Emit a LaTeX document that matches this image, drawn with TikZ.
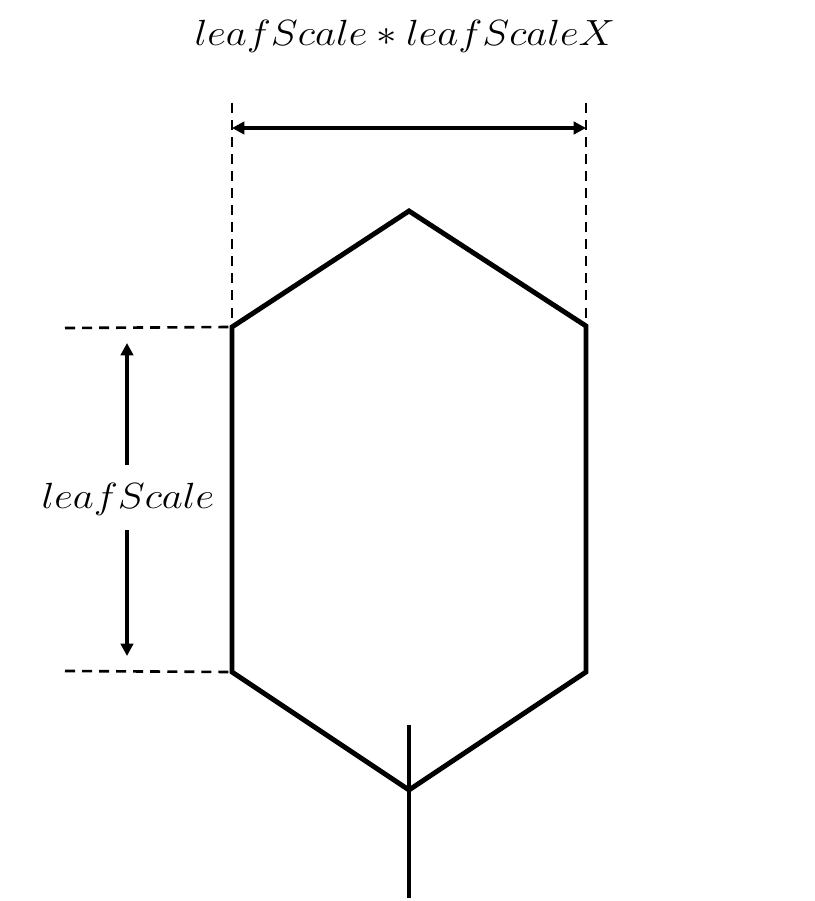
\documentclass[tikz,border=0pt]{standalone}
\usetikzlibrary{arrows.meta}
\begin{document}
\begin{tikzpicture}[x=0.02cm,y=-0.02cm]
\fontsize{22.5}{27}\selectfont
\useasboundingbox (0,0) rectangle (814,901);

\tikzset{
  leafline/.style={line width=2.8pt, line join=miter},
  dimline/.style={line width=2pt, {Triangle[length=7pt,width=7pt]}-{Triangle[length=7pt,width=7pt]}},
  dimarrow/.style={line width=2pt, -{Triangle[length=7pt,width=7pt]}},
  guide/.style={line width=1.5pt, dash pattern=on 5.7pt off 4pt}
}
\newcommand{\widelabel}[1]{\scalebox{1.12}[1]{$#1$}}

% hexagon corners
\coordinate (top) at (409,211);
\coordinate (ul) at (232,327);
\coordinate (ur) at (586,326);
\coordinate (ll) at (232,672);
\coordinate (lr) at (586,672);
\coordinate (bot) at (409,790);

\draw[leafline] (top) -- (ur) -- (lr) -- (bot) -- (ll) -- (ul) -- cycle;

% stem
\coordinate (s1) at (409,725);
\coordinate (s2) at (409,898);
\draw[leafline] (s1) -- (s2);

% width
\coordinate (wl) at (232,103);
\coordinate (wr) at (586,103);
\draw[guide] (wl) -- (ul);
\draw[guide] (wr) -- (ur);
\draw[dimline] (232,128) -- (586,128);
\node (wlabel) at (405,36) {\widelabel{leafScale*leafScaleX}};

% height
\coordinate (hl1) at (65,328);
\coordinate (hl2) at (65,671);
\draw[guide] (hl1) -- (ul);
\draw[guide] (hl2) -- (ll);
\node (hlabel) at (128,499) {\widelabel{leafScale}};
\coordinate (h1) at (127,343);
\coordinate (h2) at (127,656);
\draw[dimarrow] (127,465) -- (h1);
\draw[dimarrow] (127,530) -- (h2);
\end{tikzpicture}
\end{document}
